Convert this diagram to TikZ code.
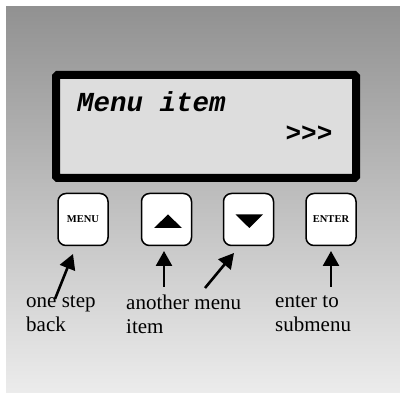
\documentclass[tikz,border=0pt]{standalone}
\usepackage{fontspec}
\setmainfont{Liberation Serif}
\setmonofont{Liberation Mono}
\usetikzlibrary{arrows.meta}
\definecolor{gtop}{gray}{0.57}
\definecolor{gmid}{gray}{0.79}
\definecolor{gbot}{gray}{0.925}
\definecolor{lcdfill}{gray}{0.865}
\tikzset{
  btn/.style={draw=black, fill=white, line width=1.5pt, rounded corners=8pt,
    minimum width=50pt, minimum height=52pt, inner sep=0pt,
    font=\fontsize{10.5}{12}\selectfont\bfseries},
  lbl/.style={anchor=north west, align=left, inner sep=0pt,
    font=\fontsize{21}{24}\selectfont},
  ptr/.style={line width=2.6pt, -{Triangle[length=15pt,width=16pt]}},
  tri/.style={fill=black}
}
\begin{document}
\begin{tikzpicture}[x=1pt,y=-1pt]
\useasboundingbox (0,0) rectangle (400,393);
\shade[top color=gtop, middle color=gmid, bottom color=gbot] (6,7) rectangle (400,393);
% LCD
\draw[line width=8pt, rounded corners=1.5pt, fill=lcdfill] (56,75) rectangle (356,178);
\node[anchor=base west, inner sep=0pt, font=\fontsize{27.5}{30}\selectfont\ttfamily\bfseries\itshape] (item) at (77,112) {Menu item};
\node[anchor=center, inner sep=0pt, font=\fontsize{26}{30}\selectfont\ttfamily\bfseries] (more) at (309,134) {>>>};
% buttons
\node[btn] (menu) at (83,219.5) {MENU};
\node[btn] (up) at (166.5,219.5) {};
\node[btn] (down) at (248.5,219.5) {};
\node[btn] (enter) at (331,219.5) {ENTER};
\fill[tri] (154,228) -- (182,228) -- (168,214.5) -- cycle;
\fill[tri] (235.5,214.5) -- (263,214.5) -- (249.3,228) -- cycle;
% labels
\node[lbl] (l1) at (26,295) {one step\\back};
\node[lbl] (l2) at (126,295) {another menu\\item};
\node[lbl] (l3) at (275,295) {enter to\\submenu};
% arrows
\coordinate (t1) at (55,299);
\coordinate (h1) at (73,254);
\coordinate (t2) at (164,287);
\coordinate (h2) at (164,251);
\coordinate (t3) at (205,288);
\coordinate (h3) at (234,253);
\coordinate (t4) at (331,287);
\coordinate (h4) at (331,251);
\draw[ptr] (t1) -- (h1);
\draw[ptr] (t2) -- (h2);
\draw[ptr] (t3) -- (h3);
\draw[ptr] (t4) -- (h4);
\end{tikzpicture}
\end{document}
